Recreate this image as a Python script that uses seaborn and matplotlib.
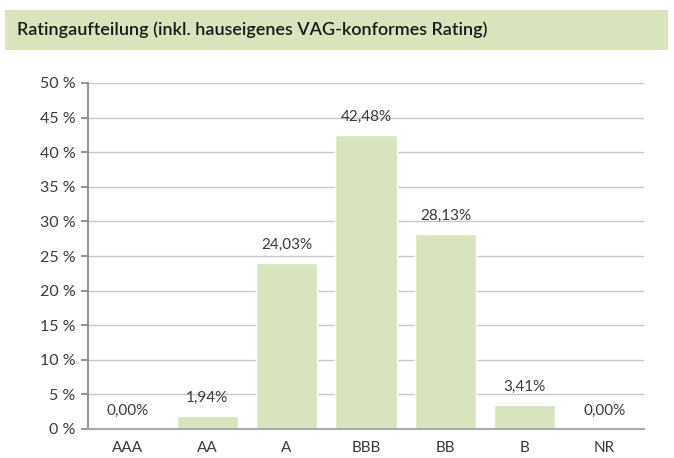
import seaborn as sns
import matplotlib.pyplot as plt
from matplotlib.patches import Rectangle
import pandas as pd

# Ratingaufteilung in Prozent
ratings = ["AAA", "AA", "A", "BBB", "BB", "B", "NR"]
anteile = [0.00, 1.94, 24.03, 42.48, 28.13, 3.41, 0.00]
y_ticks = [0, 5, 10, 15, 20, 25, 30, 35, 40, 45, 50]

df = pd.DataFrame({"rating": ratings, "anteil": anteile})

sns.set_theme(style="white")
plt.rcParams["font.family"] = ["Lato", "DejaVu Sans"]

text_col = "#3a3a3a"
bar_col = "#d7e4bd"

fig = plt.figure(figsize=(6.74, 4.58), dpi=100)

# Titelbalken
fig.patches.append(Rectangle((5 / 674, 1 - 50 / 458), 663 / 674, 40 / 458,
                             transform=fig.transFigure, facecolor="#d9e4bd",
                             edgecolor="none", zorder=0))
fig.text(17 / 674, 1 - 30 / 458, "Ratingaufteilung (inkl. hauseigenes VAG-konformes Rating)",
         fontsize=13, fontweight="semibold", color="#1a1a1a", va="center", ha="left")

ax = fig.add_axes([88 / 674, 1 - 429 / 458, 556 / 674, 346 / 458])
sns.barplot(data=df, x="rating", y="anteil", color=bar_col, width=0.77,
            saturation=1, ax=ax, zorder=2)

ax.set_ylim(0, 50)
ax.set_yticks(y_ticks)
ax.set_yticklabels([f"{t} %" for t in y_ticks])
ax.set_xlim(-0.5, len(ratings) - 0.5)
ax.set_xlabel("")
ax.set_ylabel("")

ax.yaxis.grid(True, color="#c8c8c8", linewidth=1, zorder=0)
ax.set_axisbelow(True)
for s in ["top", "right"]:
    ax.spines[s].set_visible(False)
ax.spines["left"].set_color("#888888")
ax.spines["bottom"].set_color("#aaaaaa")
ax.spines["bottom"].set_linewidth(1.5)
ax.tick_params(axis="y", left=True, length=5, color="#888888", labelsize=11.5,
               labelcolor=text_col, pad=4)
ax.tick_params(axis="x", bottom=False, labelsize=11, labelcolor=text_col, pad=3)

for i, v in enumerate(anteile):
    ax.annotate(f"{v:.2f}%".replace(".", ","), (i, v), xytext=(0, 8),
                textcoords="offset points", ha="center", va="bottom",
                fontsize=11, color=text_col)

fig.savefig("out.png", dpi=100)
